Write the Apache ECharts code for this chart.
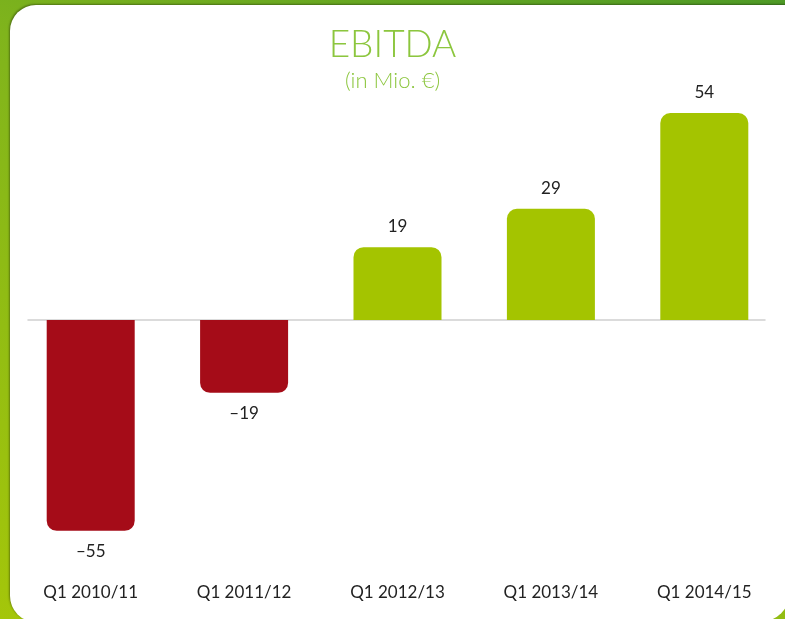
<!DOCTYPE html>
<html>
<head>
<meta charset="utf-8">
<script src="https://cdn.jsdelivr.net/npm/echarts@6/dist/echarts.min.js"></script>
<style>
html,body{margin:0;padding:0;width:785px;height:619px;overflow:hidden;}
body{background:linear-gradient(200deg,#4e9a26 0%,#80b41c 35%,#a4c60a 100%);}
#panel{position:absolute;left:10px;top:5px;width:780px;height:617px;background:#fff;border-radius:26px 0 30px 26px;box-shadow:-1px -1px 2px rgba(0,0,0,0.35);}
#chart{position:absolute;left:0;top:0;width:785px;height:619px;}
</style>
</head>
<body>
<div id="panel"></div>
<div id="chart"></div>
<script>
const categories = ['Q1 2010/11', 'Q1 2011/12', 'Q1 2012/13', 'Q1 2013/14', 'Q1 2014/15'];
const ebitda = [-55, -19, 19, 29, 54];
const titleText = 'EBITDA';
const subtitleText = '(in Mio. €)';

const RED = '#a50c18';
const GREEN = '#a4c400';

const chart = echarts.init(document.getElementById('chart'));
const barData = ebitda.map(v => ({
  value: v,
  itemStyle: {
    color: v < 0 ? RED : GREEN,
    borderRadius: v < 0 ? [0, 0, 10, 10] : [10, 10, 0, 0]
  },
  label: { position: v < 0 ? 'bottom' : 'top' }
}));

chart.setOption({
  animation: false,
  title: {
    text: titleText,
    subtext: subtitleText,
    left: 'center',
    top: 22,
    itemGap: 6,
    textStyle: { fontFamily: 'Lato', fontWeight: 300, fontSize: 37, color: '#8cc63e' },
    subtextStyle: { fontFamily: 'Lato', fontWeight: 300, fontSize: 22, color: '#8cc63e' }
  },
  grid: [
    { left: 14, right: 4, top: 90, bottom: 69 },
    { left: 28, right: 20, top: 90, bottom: 69 }
  ],
  xAxis: [
    {
      type: 'category', data: categories, gridIndex: 0,
      axisLine: { show: false, onZero: false }, axisTick: { show: false },
      axisLabel: { margin: 34, fontFamily: 'Lato', fontSize: 17, color: '#222' }
    },
    {
      type: 'category', data: categories, gridIndex: 1,
      axisLine: { show: true, onZero: true, lineStyle: { color: '#cfcfcf', width: 1.5 } },
      axisTick: { show: false }, axisLabel: { show: false }
    }
  ],
  yAxis: [
    { type: 'value', gridIndex: 0, min: -60, max: 60, show: false, splitLine: { show: false } },
    { type: 'value', gridIndex: 1, min: -60, max: 60, show: false, splitLine: { show: false } }
  ],
  series: [
    {
      type: 'bar', xAxisIndex: 1, yAxisIndex: 1, data: [], silent: true
    },
    {
      type: 'bar', xAxisIndex: 0, yAxisIndex: 0, z: 3,
      data: barData,
      barWidth: 88,
      label: {
        show: true, distance: 12,
        fontFamily: 'Lato', fontSize: 17, color: '#222',
        formatter: p => p.value < 0 ? '\u2013' + Math.abs(p.value) : String(p.value)
      }
    }
  ]
});
</script>
</body>
</html>
